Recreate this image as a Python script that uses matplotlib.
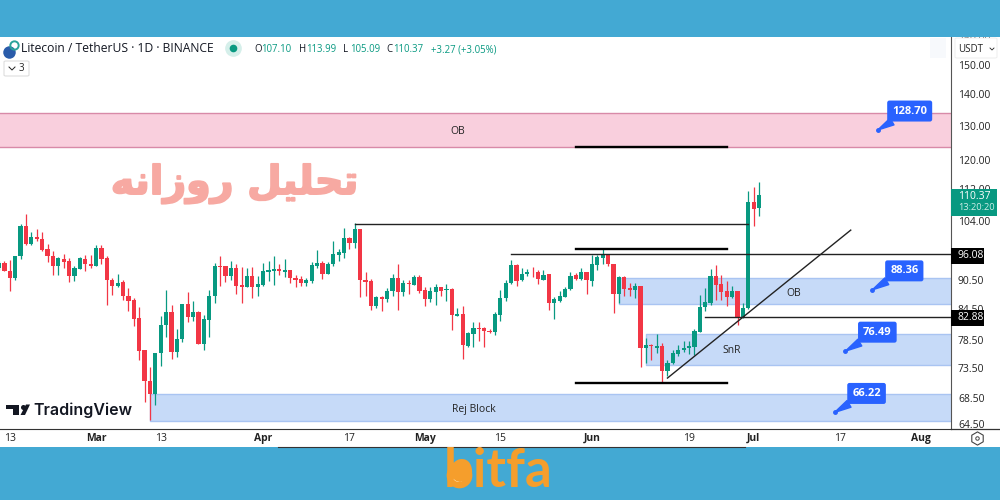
import pandas as pd
import matplotlib
matplotlib.use('Agg')
import matplotlib.pyplot as plt
import matplotlib.patheffects as pe
from matplotlib.lines import Line2D
from matplotlib.patches import Rectangle, Polygon, FancyBboxPatch

plt.rcParams['font.family'] = ['Open Sans', 'DejaVu Sans']

# daily candles, Feb 2023 -> Jul 2 2023
opens = [92.97, 94.23, 92.47, 90.78, 95.75, 102.73, 98.41, 100.01, 99.63, 97.20, 95.75, 93.47, 94.99, 94.61, 91.28, 92.83,
         94.99, 93.93, 93.47, 97.58, 95.30, 90.50, 89.09, 89.94, 87.12, 86.27, 82.62, 76.69, 71.31, 69.09, 76.09, 81.26,
         83.86, 76.27, 78.74, 85.42, 82.82, 83.86, 77.84, 82.36, 87.12, 93.47, 93.47, 91.35, 93.04, 89.30, 88.95, 91.28,
         88.95, 89.44, 92.26, 92.40, 92.76, 92.26, 92.54, 90.92, 90.64, 89.80, 90.15, 93.47, 94.23, 91.77, 93.85, 95.98,
         96.36, 99.86, 98.56, 101.91, 90.43, 90.15, 85.10, 86.90, 86.55, 88.10, 90.92, 87.89, 89.80, 89.44, 91.13, 88.24,
         86.48, 87.96, 88.88, 88.24, 88.60, 83.08, 83.40, 77.48, 79.64, 80.87, 80.74, 80.28, 79.96, 83.27, 86.69, 89.80,
         93.75, 90.36, 91.63, 92.26, 92.05, 90.50, 91.63, 85.62, 86.14, 86.97, 88.46, 91.49, 90.64, 92.05, 90.22, 93.75,
         95.30, 95.90, 93.93, 87.47, 90.99, 88.74, 88.31, 89.23, 76.99, 77.66, 77.12, 77.36, 73.03, 74.35, 75.97, 76.75,
         76.99, 77.30, 80.09, 84.84, 85.75, 91.28, 89.66, 88.03, 86.83, 88.03, 82.82, 84.64, 108.58, 107.10]
highs = [94.46, 94.61, 94.84, 95.75, 103.23, 105.70, 101.33, 101.91, 101.17, 98.49, 96.74, 95.45, 96.13, 95.14, 93.47, 95.45,
         95.98, 95.98, 98.26, 98.26, 95.60, 90.85, 91.77, 90.50, 88.74, 86.62, 84.84, 76.75, 73.75, 76.21, 83.02, 88.24,
         85.23, 80.54, 85.42, 87.82, 86.14, 83.99, 83.34, 88.24, 94.23, 95.75, 93.47, 94.61, 93.93, 93.32, 92.97, 93.32,
         91.35, 94.23, 94.61, 95.75, 93.93, 94.99, 92.54, 91.49, 91.35, 90.78, 94.30, 96.97, 94.61, 94.38, 99.10, 97.35,
         102.16, 100.16, 103.39, 101.91, 92.19, 90.64, 87.12, 87.12, 88.74, 91.70, 93.85, 90.50, 90.36, 91.56, 91.49, 88.95,
         89.02, 89.66, 88.88, 89.59, 88.74, 84.64, 85.10, 80.09, 81.91, 81.84, 81.06, 80.54, 83.93, 88.38, 90.50, 94.84,
         93.93, 92.97, 92.83, 93.18, 92.62, 92.62, 91.77, 86.83, 88.03, 88.95, 92.19, 91.91, 92.97, 92.19, 95.90, 95.90,
         97.27, 96.06, 93.93, 91.20, 91.20, 89.80, 89.80, 89.23, 78.86, 77.84, 79.64, 77.96, 74.95, 76.75, 77.66, 78.26,
         78.26, 80.67, 87.26, 88.74, 92.90, 93.62, 91.56, 90.15, 89.23, 88.03, 85.62, 111.63, 112.46, 113.99]
lows = [92.62, 92.33, 88.03, 90.36, 94.99, 98.26, 98.18, 99.02, 96.74, 94.38, 91.49, 91.49, 93.11, 90.01, 90.29, 92.76,
        92.33, 92.97, 93.47, 93.93, 85.29, 87.33, 88.95, 86.27, 83.99, 81.19, 74.95, 67.94, 65.01, 67.43, 73.92, 79.16,
        75.07, 75.43, 78.14, 81.84, 82.04, 77.78, 76.63, 79.04, 85.62, 89.09, 89.94, 90.50, 87.54, 85.62, 88.95, 86.62,
        87.19, 89.23, 90.29, 89.44, 91.42, 91.06, 89.80, 88.95, 89.23, 89.09, 89.80, 93.11, 90.71, 91.77, 93.55, 94.46,
        95.14, 97.27, 97.42, 86.83, 87.12, 84.19, 84.64, 84.06, 85.94, 87.12, 84.19, 87.19, 87.47, 89.37, 87.75, 85.10,
        85.94, 85.23, 87.19, 86.07, 80.41, 83.02, 75.07, 77.24, 77.18, 78.26, 77.18, 79.76, 79.46, 82.04, 86.14, 89.66,
        89.09, 90.15, 91.20, 91.06, 89.66, 90.36, 84.32, 82.49, 85.94, 86.83, 88.24, 90.36, 90.50, 87.47, 89.09, 92.62,
        93.93, 93.47, 83.67, 85.62, 87.19, 87.12, 86.62, 73.64, 74.47, 74.95, 76.15, 70.97, 72.09, 74.23, 75.67, 76.39,
        76.03, 75.85, 79.96, 83.99, 85.23, 86.27, 86.27, 85.10, 86.69, 81.26, 82.62, 84.45, 102.73, 105.09]
closes = [94.08, 92.33, 90.78, 95.75, 102.73, 98.41, 100.01, 99.48, 97.12, 95.75, 93.47, 95.30, 94.38, 91.28, 93.11, 95.30,
          93.93, 93.55, 97.58, 95.07, 90.36, 89.09, 89.80, 87.12, 86.07, 82.56, 76.57, 71.31, 69.09, 76.21, 81.32, 83.86,
          76.27, 78.74, 85.42, 82.82, 83.86, 77.84, 82.49, 87.12, 93.47, 93.32, 91.35, 93.04, 89.09, 88.95, 91.28, 88.88,
          89.51, 92.40, 92.69, 92.76, 92.33, 92.62, 90.78, 90.50, 89.80, 90.50, 93.70, 94.15, 91.77, 94.00, 96.13, 96.59,
          99.86, 98.56, 101.91, 90.36, 90.01, 85.16, 86.90, 86.55, 88.17, 90.92, 87.96, 89.80, 89.51, 91.06, 88.03, 86.55,
          88.03, 88.88, 88.03, 88.60, 83.21, 83.40, 77.54, 79.89, 80.87, 80.61, 80.15, 79.96, 83.40, 86.69, 89.87, 93.75,
          90.22, 91.77, 92.26, 92.05, 90.64, 91.49, 85.75, 86.41, 87.05, 88.60, 91.35, 90.64, 92.05, 90.36, 93.93, 95.45,
          95.90, 93.85, 87.47, 90.99, 88.60, 88.31, 89.23, 76.99, 77.66, 77.36, 77.42, 73.03, 74.47, 76.09, 76.75, 77.12,
          77.42, 80.22, 84.90, 85.81, 91.28, 89.37, 87.89, 86.83, 88.03, 82.69, 84.64, 108.58, 106.85, 110.37]

last_day = '2023-07-02'
price_ticks = [160, 150, 140, 130, 120, 112, 104, 90.5, 84.5, 78.5, 73.5, 68.5, 64.5]
time_ticks = ['2023-02-13', '2023-03-01', '2023-03-13', '2023-04-01', '2023-04-17', '2023-05-01', '2023-05-15',
              '2023-06-01', '2023-06-19', '2023-07-01', '2023-07-17', '2023-08-01']
time_labels = ['13', 'Mar', '13', 'Apr', '17', 'May', '15', 'Jun', '19', 'Jul', '17', 'Aug']

# zones: name, start, low, high
zone_names = ['OB', 'OB', 'SnR', 'Rej Block']
zone_starts = ['2023-02-01', '2023-06-06', '2023-06-11', '2023-03-11']
zone_lows = [123.7, 85.49, 74.05, 64.9]
zone_highs = [134.0, 90.87, 79.65, 69.2]

callout_values = [128.70, 88.36, 76.49, 66.22]
callout_dates = ['2023-07-24', '2023-07-23', '2023-07-18', '2023-07-16']

GREEN = '#089981'
RED = '#F23645'
BAND = '#43A9D3'
INK = '#222222'

fig = plt.figure(figsize=(10, 5), dpi=100, facecolor='white')
ax = fig.add_axes([0, 1 - 429 / 500, 0.951, (429 - 37) / 500])

dates = pd.date_range(end=last_day, periods=len(opens))
df = pd.DataFrame({'o': opens, 'h': highs, 'l': lows, 'c': closes}, index=dates)
up = df[df.c >= df.o]
down = df[df.c < df.o]

# zones go under the candles
for i in range(len(zone_names)):
    col = '#F9CFDD' if i == 0 else '#C6DAF8'
    edge = '#D88AA8' if i == 0 else '#A9C4F2'
    ax.fill_between([pd.Timestamp(zone_starts[i]), pd.Timestamp('2023-09-01')], zone_lows[i], zone_highs[i],
                    color=col, ec=edge, lw=1, zorder=1)

for part, col in [(up, GREEN), (down, RED)]:
    ax.vlines(part.index, part.l, part.h, color=col, lw=0.9, zorder=3)
    ax.bar(part.index, abs(part.c - part.o).clip(lower=0.15), bottom=part[['o', 'c']].min(axis=1), width=0.78,
           color=col, zorder=4)

# drawn lines
ax.plot(pd.to_datetime(['2023-04-18', '2023-06-30']), [103.2, 103.2], color='#222222', lw=1, zorder=5)
ax.plot(pd.to_datetime(['2023-05-17', '2023-09-01']), [96.08, 96.08], color='#222222', lw=1, zorder=5)
ax.plot(pd.to_datetime(['2023-06-22', '2023-09-01']), [82.88, 82.88], color='#222222', lw=1, zorder=5)
for level in [123.7, 97.3, 70.98]:
    ax.plot(pd.to_datetime(['2023-05-29', '2023-06-26']), [level, level], color='black', lw=1.7, zorder=5)
ax.plot(pd.to_datetime(['2023-06-15', '2023-07-19']), [71.8, 101.7], color='#222222', lw=1, zorder=5)

ax.text(pd.Timestamp('2023-05-07'), 128.3, 'OB', ha='center', va='center', fontsize=7.5, color=INK, zorder=6)
ax.text(pd.Timestamp('2023-07-08 12:00'), 87.6, 'OB', ha='center', va='center', fontsize=7.5, color=INK, zorder=6)
ax.text(pd.Timestamp('2023-06-27'), 76.7, 'SnR', ha='center', va='center', fontsize=7.5, color=INK, zorder=6)
ax.text(pd.Timestamp('2023-05-10'), 66.75, 'Rej Block', ha='center', va='center', fontsize=7.5, color=INK, zorder=6)

# price callouts, tip sits on the level
for val, day in zip(callout_values, callout_dates):
    ax.annotate(f'{val:.2f}', xy=(pd.Timestamp(day), val), xytext=(32, 19), textcoords='offset pixels',
                ha='center', va='center', color='white', fontsize=8, fontweight='bold', zorder=7,
                bbox=dict(boxstyle='round,pad=0.45,rounding_size=0.2', fc='#2962FF', ec='none'),
                arrowprops=dict(arrowstyle='wedge,tail_width=0.7,shrink_factor=0.5', fc='#2962FF', ec='#2962FF',
                                shrinkA=0, shrinkB=0))
    ax.plot([pd.Timestamp(day)], [val], 'o', color='#2962FF', ms=2.5, zorder=7)

ax.set_yscale('log')
ax.set_ylim(63.69, 160.2)
ax.set_xlim(pd.Timestamp('2023-03-01') - pd.Timedelta(days=17.82), pd.Timestamp('2023-03-01') + pd.Timedelta(days=158.6))
ax.minorticks_off()
ax.yaxis.tick_right()
ax.set_yticks(price_ticks)
ax.set_yticklabels([f'{p:.2f}' for p in price_ticks], fontsize=7.5, color=INK)
ax.tick_params(axis='y', length=0, pad=5, which='both')
ax.tick_params(axis='y', which='minor', labelright=False)
ax.set_xticks(pd.to_datetime(time_ticks))
ax.set_xticklabels(time_labels, fontsize=7.5, color=INK)
ax.tick_params(axis='x', length=0, pad=3)
for lab, name in zip(ax.get_xticklabels(), time_labels):
    if not name.isdigit():
        lab.set_fontweight('bold')
for side in ['top', 'left']:
    ax.spines[side].set_visible(False)
ax.spines['right'].set_color('#555555')
ax.spines['bottom'].set_color('#333333')


# everything around the plot lives in figure pixels
def fx(x):
    return x / 1000


def fy(y):
    return 1 - y / 500


def box(x0, y0, x1, y1, **kw):
    fig.add_artist(Rectangle((fx(x0), fy(y1)), (x1 - x0) / 1000, (y1 - y0) / 500, transform=fig.transFigure, **kw))


def poly(points, **kw):
    fig.add_artist(Polygon([(fx(a), fy(b)) for a, b in points], transform=fig.transFigure, **kw))


def dot(x, y, size, **kw):
    fig.add_artist(Line2D([fx(x)], [fy(y)], marker=kw.pop('marker', 'o'), ms=size, ls='none', transform=fig.transFigure, **kw))


def label(x, y, s, **kw):
    kw.setdefault('va', 'center')
    kw.setdefault('fontsize', 7.5)
    return fig.text(fx(x), fy(y), s, **kw)


# bands top and bottom
box(0, 0, 1000, 37, fc=BAND, ec='none')
box(0, 447, 1000, 500, fc=BAND, ec='none')
fig.add_artist(Line2D([fx(278), fx(745)], [fy(446.5), fy(446.5)], color='#333333', lw=0.8, transform=fig.transFigure))
fig.add_artist(Line2D([fx(951), fx(1000)], [fy(429), fy(429)], color='#333333', lw=0.9, transform=fig.transFigure))

# header
dot(9, 52, 9, color='#2A5CAA', mec='none')
dot(14, 45, 6, mfc='none', mec='#2AA39A', mew=1.4)
label(21, 49, 'Litecoin / TetherUS · 1D · BINANCE', fontsize=8.7, color='#131722')
dot(233, 48, 12, color='#D5EFEA', mec='none')
dot(233, 48, 5.5, color=GREEN, mec='none')
x_pos = [254, 261, 299, 306, 343, 350, 386, 393, 431]
parts = ['O', '107.10', 'H', '113.99', 'L', '105.09', 'C', '110.37', '+3.27 (+3.05%)']
for xp, s in zip(x_pos, parts):
    label(xp, 50, s, fontsize=6.9, color='#131722' if s in 'OHLC' else GREEN)
fig.add_artist(FancyBboxPatch((fx(4), fy(76)), 0.025, 0.03, boxstyle='round,pad=0,rounding_size=0.002',
                              transform=fig.transFigure, fc='white', ec='#DDDDDD', lw=0.8))
fig.add_artist(Line2D([fx(9), fx(12), fx(15)], [fy(67), fy(70), fy(67)], color=INK, lw=0.7, transform=fig.transFigure))
label(19, 68.5, '3', fontsize=7, color=INK)

# USDT button, price tags
box(930, 38, 946, 58, fc='#F7F9FC', ec='none')
fig.add_artist(FancyBboxPatch((fx(955), fy(58)), 0.042, 0.04, boxstyle='round,pad=0,rounding_size=0.002',
                              transform=fig.transFigure, fc='white', ec='#EEEEEE', lw=0.7))
label(958, 49, 'USDT', fontsize=7, color=INK)
fig.add_artist(Line2D([fx(990), fx(992), fx(994)], [fy(48), fy(50), fy(48)], color=INK, lw=0.6, transform=fig.transFigure))
box(951, 248, 984, 264, fc='black', ec='none')
label(958, 256, '96.08', color='white')
box(951, 310, 984, 326, fc='black', ec='none')
label(958, 318, '82.88', color='white')
box(951, 189, 997, 216, fc=GREEN, ec='none')
label(958, 196.5, '110.37', color='white')
label(958, 208, '13:20:20', color='#CDEDE7', fontsize=6.7)

# settings icon
dot(977, 438, 9.5, marker='h', mfc='none', mec='#444444', mew=0.8)
dot(977, 438, 2.5, mfc='none', mec='#444444', mew=0.7)

# TradingView logo
poly([(6, 404.5), (19, 404.5), (19, 415), (12.5, 415), (12.5, 408.5), (6, 408.5)], fc='#131722', ec='none')
dot(23, 406.5, 3.6, color='#131722', mec='none')
poly([(26, 404.5), (30, 404.5), (25, 415), (20.5, 415)], fc='#131722', ec='none')
label(33, 410, 'TradingView', fontsize=11.5, color='#131722', fontweight='semibold', family='Inter')

# Persian title, shaped forms in visual order since matplotlib does no shaping
title = label(235, 184, '\ufeea\ufee7\ufe8d\ufeaf\ufeed\ufead \ufede\ufef4\ufee0\ufea4\ufe97', ha='center', fontsize=28.5,
              color='#F7A9A2', fontweight='bold', family='DejaVu Sans')
title.set_path_effects([pe.withStroke(linewidth=1.4, foreground='#F7A9A2')])

# bitfa logo, the b bowl is filled and carries the smile
label(444, 487, 'bitfa', va='baseline', fontsize=38, color='#F59E2C', fontweight='bold', family='Lato')
dot(459, 475, 18.5, color='#F59E2C', mec='none')
fig.add_artist(Line2D([fx(a) for a in (452, 456, 460, 464, 468)], [fy(b) for b in (479, 482, 483, 482, 479)],
                      color='#FDEBCB', lw=1.4, transform=fig.transFigure))

fig.savefig('out.png', dpi=100)
